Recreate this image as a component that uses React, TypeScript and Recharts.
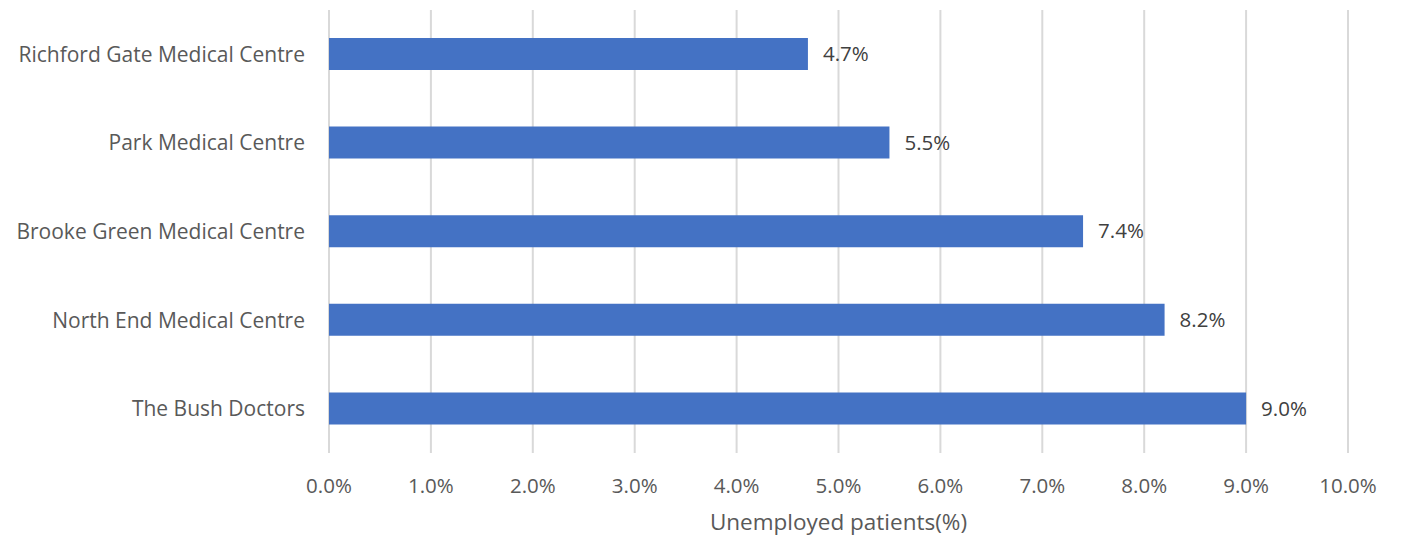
import React from 'react';
import { BarChart, Bar, XAxis, YAxis, CartesianGrid, LabelList, Label } from 'recharts';

const categories = [
  'Richford Gate Medical Centre',
  'Park Medical Centre',
  'Brooke Green Medical Centre',
  'North End Medical Centre',
  'The Bush Doctors',
];
const values = [4.7, 5.5, 7.4, 8.2, 9.0];
const xTicks = [0, 1, 2, 3, 4, 5, 6, 7, 8, 9, 10];
const axisTitle = 'Unemployed patients(%)';

const data = categories.map((name, i) => ({ name, value: values[i] }));
const fmt = (v: number) => `${Number(v).toFixed(1)}%`;
const FONT = '"Open Sans", sans-serif';

export default function App() {
  return (
    <div style={{ position: 'absolute', left: 0, top: 0, width: 1409, height: 537, background: '#fff' }}>
      <BarChart
        width={1409}
        height={537}
        data={data}
        layout="vertical"
        margin={{ top: 10, right: 61, bottom: 0, left: 0 }}
        barSize={32}
      >
        <CartesianGrid horizontal={false} vertical stroke="#d9d9d9" strokeWidth={2} />
        <XAxis
          type="number"
          domain={[0, 10]}
          ticks={xTicks}
          tickFormatter={fmt}
          axisLine={false}
          tickLine={false}
          tickSize={0}
          tickMargin={25}
          height={84}
          interval={0}
          tick={{ fill: '#595959', fontSize: 20.5, fontFamily: FONT }}
        >
          <Label
            value={axisTitle}
            position="insideBottom"
            offset={7}
            style={{ fill: '#595959', fontSize: 22.5, fontFamily: FONT }}
          />
        </XAxis>
        <YAxis
          type="category"
          dataKey="name"
          width={329}
          axisLine={false}
          tickLine={false}
          tickSize={0}
          tickMargin={24}
          interval={0}
          tick={{ fill: '#595959', fontSize: 21, fontFamily: FONT }}
        />
        <Bar dataKey="value" fill="#4472c4" isAnimationActive={false}>
          <LabelList
            dataKey="value"
            position="right"
            offset={15}
            formatter={(v: any) => fmt(v)}
            style={{ fill: '#404040', fontSize: 20.5, fontFamily: FONT }}
          />
        </Bar>
      </BarChart>
    </div>
  );
}
